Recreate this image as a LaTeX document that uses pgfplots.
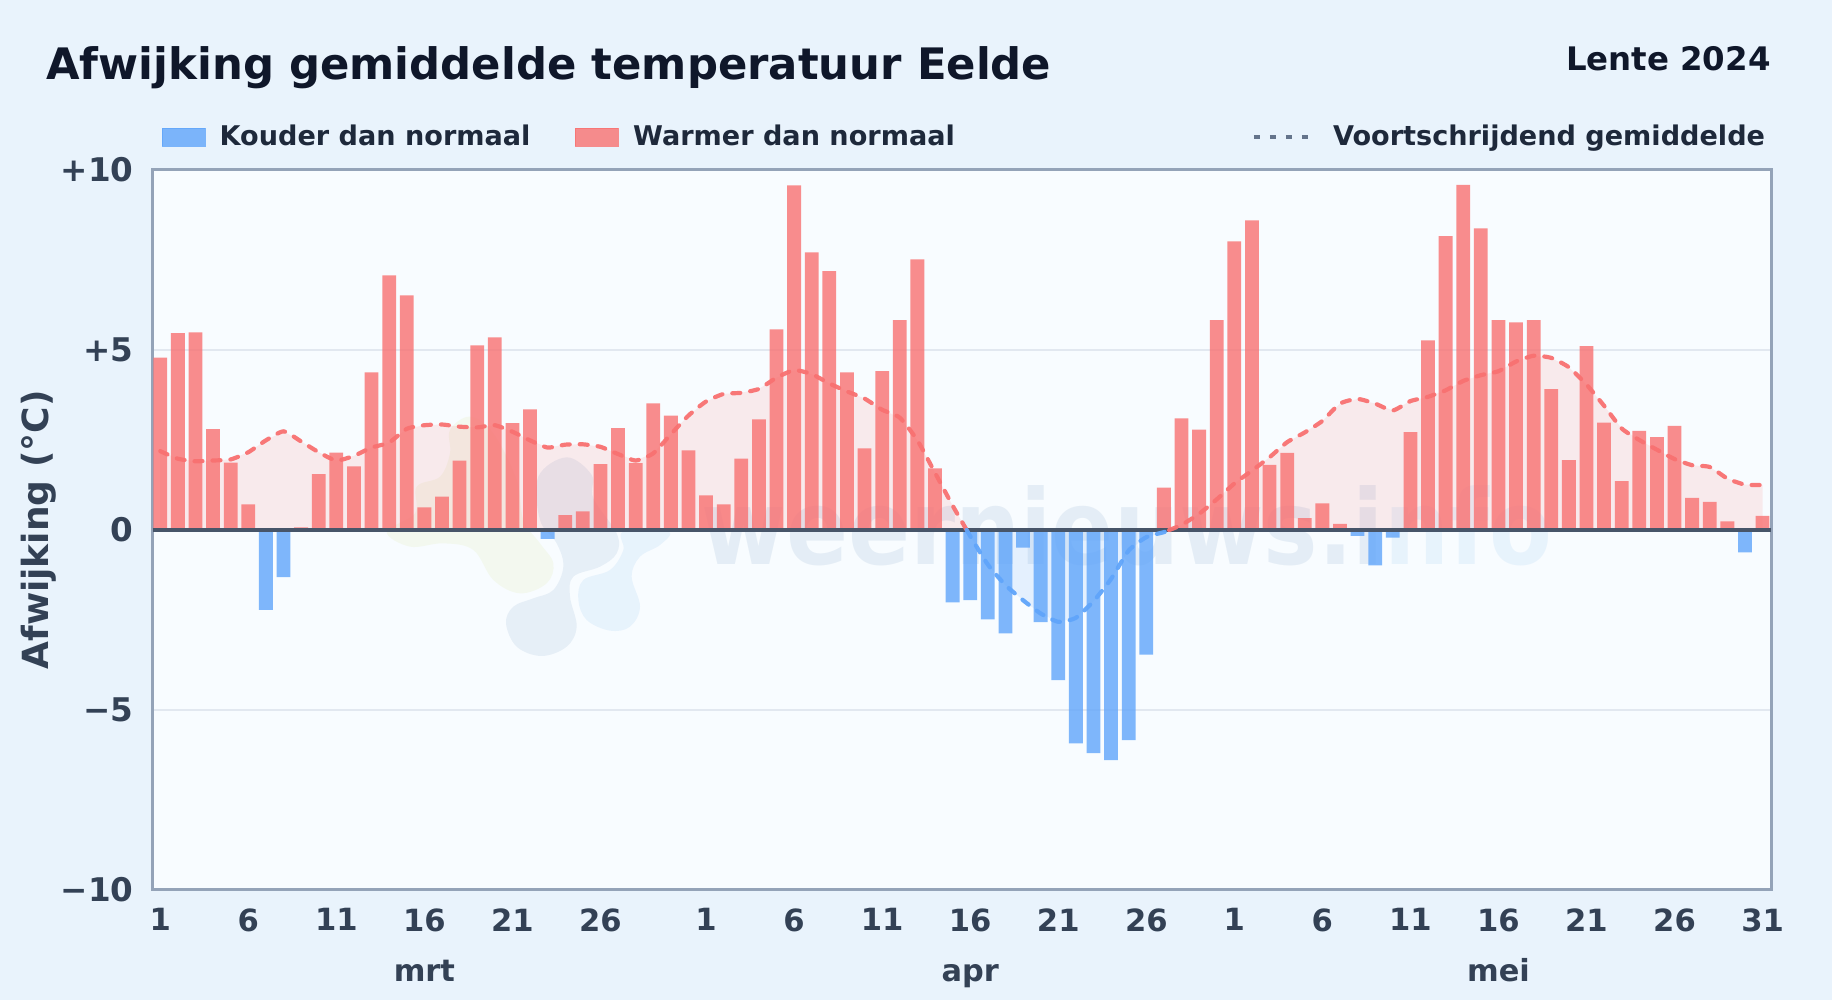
\documentclass[border=0pt]{standalone}
\usepackage{fontspec}
\setmainfont{DejaVu Sans}
\newfontface\wmfont[FakeStretch=0.88]{DejaVu Sans Bold}
\usepackage{pgfplots}
\pgfplotsset{compat=1.18}
\usepackage{pgfplotstable}

\definecolor{pagebg}{HTML}{E9F3FC}
\definecolor{plotbg}{HTML}{F8FCFF}
\definecolor{warm}{HTML}{F87171}
\definecolor{cold}{HTML}{60A5FA}
\definecolor{framec}{HTML}{94A3B8}
\definecolor{gridc}{HTML}{E2E8F0}
\definecolor{ticktxt}{HTML}{334155}
\definecolor{legtxt}{HTML}{1E293B}
\definecolor{titletxt}{HTML}{0F172A}
\definecolor{zeroc}{HTML}{475569}
\definecolor{dotc}{HTML}{64748B}
\definecolor{wmdark}{HTML}{3B6FA8}
\definecolor{wmlight}{HTML}{5AA5E8}
\definecolor{wmgreen}{HTML}{B8D020}

% 1 px of the reference = 0.5pt here
\def\px{0.5pt}

% warm days, index 0 = 1 March
\pgfplotstableread{
d v
0 4.79
1 5.47
2 5.49
3 2.80
4 1.87
5 0.71
8 0.07
9 1.55
10 2.15
11 1.77
12 4.38
13 7.07
14 6.52
15 0.63
16 0.93
17 1.93
18 5.13
19 5.35
20 2.97
21 3.35
23 0.41
24 0.52
25 1.83
26 2.83
27 1.86
28 3.52
29 3.18
30 2.21
31 0.96
32 0.71
33 1.98
34 3.07
35 5.57
36 9.57
37 7.71
38 7.19
39 4.38
40 2.27
41 4.41
42 5.83
43 7.52
44 1.71
57 1.18
58 3.10
59 2.79
60 5.83
61 8.02
62 8.60
63 1.81
64 2.14
65 0.33
66 0.74
67 0.17
71 2.72
72 5.27
73 8.16
74 9.59
75 8.38
76 5.83
77 5.77
78 5.83
79 3.91
80 1.94
81 5.11
82 2.98
83 1.36
84 2.75
85 2.58
86 2.89
87 0.89
88 0.78
89 0.24
91 0.39
}\warmdays

% cold days
\pgfplotstableread{
d v
6 -2.22
7 -1.31
22 -0.25
45 -2.01
46 -1.95
47 -2.48
48 -2.87
49 -0.49
50 -2.56
51 -4.17
52 -5.93
53 -6.20
54 -6.39
55 -5.84
56 -3.46
68 -0.16
69 -0.98
70 -0.21
90 -0.62
}\colddays

% running mean, split where it crosses zero
\pgfplotstableread{
d v
0 2.19
1 1.98
2 1.91
3 1.93
4 1.96
5 2.16
6 2.49
7 2.74
8 2.46
9 2.16
10 1.93
11 2.06
12 2.29
13 2.43
14 2.81
15 2.91
16 2.93
17 2.87
18 2.85
19 2.91
20 2.73
21 2.49
22 2.29
23 2.37
24 2.38
25 2.31
26 2.11
27 1.93
28 2.13
29 2.66
30 3.18
31 3.57
32 3.78
33 3.81
34 3.92
35 4.23
36 4.44
37 4.33
38 4.07
39 3.85
40 3.65
41 3.34
42 3.12
43 2.49
44 1.59
45 0.68
45.8 0
}\meanA
\pgfplotstableread{
d v
45.8 0
46 -0.17
47 -0.96
48 -1.53
49 -1.95
50 -2.32
51 -2.55
52 -2.44
53 -1.98
54 -1.36
55 -0.57
56 -0.20
57 -0.06
57.3 0
}\meanB
\pgfplotstableread{
d v
57.3 0
58 0.14
59 0.45
60 0.85
61 1.29
62 1.65
63 2.02
64 2.44
65 2.71
66 3.03
67 3.51
68 3.64
69 3.51
70 3.32
71 3.58
72 3.70
73 3.88
74 4.14
75 4.30
76 4.41
77 4.68
78 4.84
79 4.78
80 4.52
81 4.04
82 3.45
83 2.82
84 2.50
85 2.23
86 1.97
87 1.80
88 1.75
89 1.43
90 1.26
91 1.25
}\meanC

\pgfplotsset{
  daybar/.style={ybar, bar width=13.8*\px, bar shift=0pt, draw=none, fill=#1, fill opacity=.8},
  meanline/.style={#1, opacity=.95, line width=2.1pt, line cap=round, dash pattern=on 4pt off 5pt, smooth, tension=.35},
  meanarea/.style={draw=none, fill=#1, fill opacity=.13},
}

\begin{document}
\begin{tikzpicture}[x=1pt,y=1pt]
\fill[pagebg] (0,0) rectangle (916,500);
\path[use as bounding box] (0,0) rectangle (916,500);

\node[anchor=base west, inner sep=0, font=\fontsize{21.68}{26}\selectfont\bfseries, text=titletxt]
  at (23,460) {Afwijking gemiddelde temperatuur Eelde};
\node[anchor=base east, inner sep=0, font=\fontsize{16.2}{19}\selectfont\bfseries, text=titletxt]
  at (885.5,464.5) {Lente 2024};

% plot area and faint logo behind the axis
\fill[plotbg] (76.25,55) rectangle (885.5,415);
\begin{scope}[shift={(180,290)},x=0.16667pt,y=-0.16667pt]
  \fill[wmgreen, opacity=.07] plot[smooth cycle, tension=.6] coordinates {
    (80,335) (150,380) (250,370) (340,390) (400,480) (480,520) (560,490) (580,430) (540,370)
    (490,300) (470,180) (400,40) (330,-10) (270,30) (270,100) (240,170) (170,200) (165,280)};
  \fill[wmdark, opacity=.09] plot[smooth cycle, tension=.6] coordinates {
    (535,170) (620,112) (695,165) (700,235) (770,340) (770,400) (720,440) (640,470) (630,530)
    (650,620) (620,680) (545,708) (470,680) (438,610) (460,560) (520,535) (580,510) (610,440)
    (590,370) (540,300)};
  \fill[wmlight, opacity=.1] plot[smooth cycle, tension=.6] coordinates {
    (925,335) (900,375) (840,410) (815,470) (840,560) (810,620) (750,632) (680,600) (655,540)
    (670,480) (750,450) (790,390) (790,335)};
\end{scope}

\begin{axis}[
    at={(76.25pt,55pt)}, anchor=south west,
    scale only axis, width=809.25pt, height=360pt,
    xmin=-0.44, xmax=91.48, ymin=-10, ymax=10,
    clip=false,
    axis line style={framec, line width=1.5pt},
    tick style={draw=none},
    ytick={-10,-5,0,5,10},
    yticklabels={−10,−5,0,+5,+10},
    xtick={0,5,10,15,20,25,31,36,41,46,51,56,61,66,71,76,81,86,91},
    xticklabels={1,6,11,16,21,26,1,6,11,16,21,26,1,6,11,16,21,26,31},
    xticklabel style={font=\fontsize{15.3}{18}\selectfont\bfseries, text=ticktxt, yshift=-5.8pt},
    yticklabel style={font=\fontsize{16.3}{19}\selectfont\bfseries, text=ticktxt, xshift=-6pt},
    ymajorgrids, grid style={gridc, line width=1pt},
    ylabel={Afwijking (°C)},
    ylabel style={at={(axis description cs:-0.0704,0.5)}, anchor=center,
      font=\fontsize{18}{21}\selectfont\bfseries, text=ticktxt},
    legend columns=3,
    legend cell align=left,
    legend style={at={(rel axis cs:0,1)}, anchor=south west, xshift=4.3pt, yshift=8.3pt,
      draw=none, fill=none, inner sep=0pt, text=legtxt,
      font=\fontsize{13.55}{16}\selectfont\bfseries,
      /tikz/column 1/.style={column sep=5.2pt},
      /tikz/column 2/.style={column sep=20.2pt},
      /tikz/column 3/.style={column sep=5.2pt},
      /tikz/column 4/.style={column sep=146.5pt},
      /tikz/column 5/.style={column sep=9.6pt}},
  ]
  % watermark
  \node[font=\fontsize{52}{60}\wmfont, anchor=base, text opacity=.1, text=wmdark]
    at (axis cs:54.9,-0.97) {weernieuws.i\textcolor{wmlight}{nfo}};

  \addlegendimage{legend image code/.code={\fill[cold, opacity=.8] (0pt,-4.6pt) rectangle (21.5pt,4.6pt);}}
  \addlegendentry{Kouder dan normaal}
  \addlegendimage{legend image code/.code={\fill[warm, opacity=.8] (0pt,-4.6pt) rectangle (21.5pt,4.6pt);}}
  \addlegendentry{Warmer dan normaal}
  \addlegendimage{legend image code/.code={\draw[dotc, line width=2pt, dash pattern=on 3pt off 5pt] (0pt,0pt) -- (27pt,0pt);}}
  \addlegendentry{Voortschrijdend gemiddelde}

  % shaded area under the running mean
  \addplot[meanarea=warm, forget plot] table[x=d,y=v]{\meanA} -- (axis cs:0,0) -- cycle;
  \addplot[meanarea=cold, forget plot] table[x=d,y=v]{\meanB} -- cycle;
  \addplot[meanarea=warm, forget plot] table[x=d,y=v]{\meanC} -- (axis cs:91,0) -- cycle;

  \addplot[daybar=warm, forget plot] table[x=d,y=v]{\warmdays};
  \addplot[daybar=cold, forget plot] table[x=d,y=v]{\colddays};

  \addplot[zeroc, line width=1.7pt, forget plot] coordinates {(-0.44,0) (91.48,0)};

  \addplot[meanline=warm, forget plot] table[x=d,y=v]{\meanA};
  \addplot[meanline=cold, forget plot] table[x=d,y=v]{\meanB};
  \addplot[meanline=warm, forget plot] table[x=d,y=v]{\meanC};

  \node[anchor=base, font=\fontsize{15.2}{18}\selectfont\bfseries, text=ticktxt] at (axis cs:15,-12.55) {mrt};
  \node[anchor=base, font=\fontsize{15.2}{18}\selectfont\bfseries, text=ticktxt] at (axis cs:46,-12.55) {apr};
  \node[anchor=base, font=\fontsize{15.2}{18}\selectfont\bfseries, text=ticktxt] at (axis cs:76,-12.55) {mei};
\end{axis}
\end{tikzpicture}
\end{document}
